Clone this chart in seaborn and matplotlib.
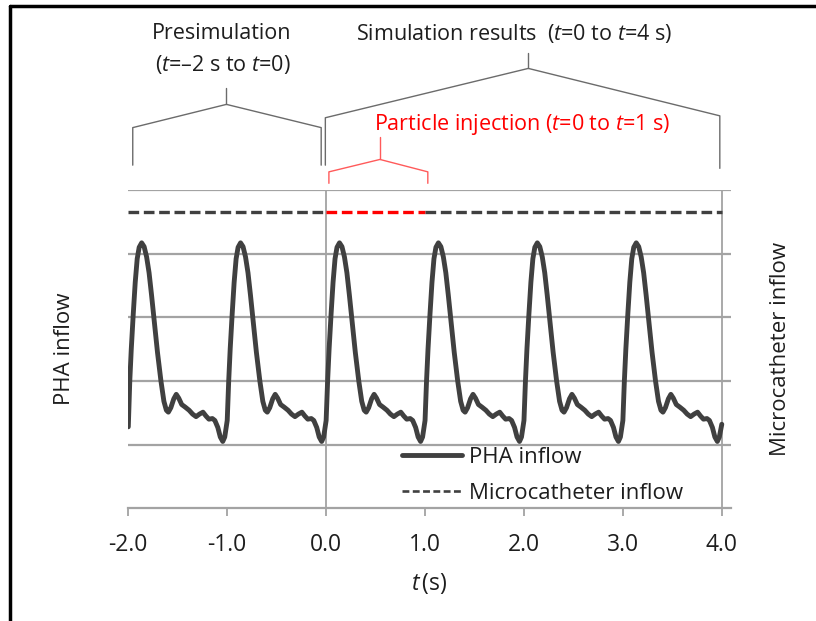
import numpy as np
import pandas as pd
import matplotlib
matplotlib.use("Agg")
import matplotlib.pyplot as plt
import matplotlib.transforms as mtransforms
from matplotlib.lines import Line2D
import seaborn as sns

# ---------------- data ----------------
beat_starts = [-2.0, -1.0, 0.0, 1.0, 2.0, 3.0]
beat_phase = [0.000, 0.015, 0.030, 0.050, 0.070, 0.090, 0.110, 0.135, 0.160,
              0.185, 0.210, 0.235, 0.260, 0.295, 0.330, 0.360, 0.385, 0.405,
              0.430, 0.460, 0.485, 0.510, 0.540, 0.575, 0.615, 0.650, 0.685,
              0.720, 0.755, 0.785, 0.815, 0.850, 0.875, 0.905, 0.930, 0.955,
              0.975]
pha_beat_1 = [1.28, 2.00, 2.50, 3.05, 3.55, 3.92, 4.10, 4.17, 4.11, 3.95, 3.70,
              3.35, 2.98, 2.45, 2.00, 1.68, 1.54, 1.51, 1.58, 1.72, 1.79, 1.73,
              1.63, 1.59, 1.54, 1.48, 1.44, 1.48, 1.51, 1.45, 1.40, 1.41, 1.38,
              1.27, 1.12, 1.05, 1.12]
pha_beat_2 = [1.38, 2.00, 2.50, 3.05, 3.55, 3.92, 4.10, 4.17, 4.11, 3.95, 3.70,
              3.35, 2.98, 2.45, 2.00, 1.68, 1.54, 1.51, 1.58, 1.72, 1.79, 1.73,
              1.63, 1.59, 1.54, 1.48, 1.44, 1.48, 1.51, 1.45, 1.40, 1.41, 1.38,
              1.27, 1.12, 1.05, 1.12]
pha_beat_3 = [1.38, 2.00, 2.50, 3.05, 3.55, 3.92, 4.10, 4.17, 4.11, 3.95, 3.70,
              3.35, 2.98, 2.45, 2.00, 1.68, 1.54, 1.51, 1.58, 1.72, 1.79, 1.73,
              1.63, 1.59, 1.54, 1.48, 1.44, 1.48, 1.51, 1.45, 1.40, 1.41, 1.38,
              1.27, 1.12, 1.05, 1.12]
pha_beat_4 = [1.38, 2.00, 2.50, 3.05, 3.55, 3.92, 4.10, 4.17, 4.11, 3.95, 3.70,
              3.35, 2.98, 2.45, 2.00, 1.68, 1.54, 1.51, 1.58, 1.72, 1.79, 1.73,
              1.63, 1.59, 1.54, 1.48, 1.44, 1.48, 1.51, 1.45, 1.40, 1.41, 1.38,
              1.27, 1.12, 1.05, 1.12]
pha_beat_5 = [1.38, 2.00, 2.50, 3.05, 3.55, 3.92, 4.10, 4.17, 4.11, 3.95, 3.70,
              3.35, 2.98, 2.45, 2.00, 1.68, 1.54, 1.51, 1.58, 1.72, 1.79, 1.73,
              1.63, 1.59, 1.54, 1.48, 1.44, 1.48, 1.51, 1.45, 1.40, 1.41, 1.38,
              1.27, 1.12, 1.05, 1.12]
pha_beat_6 = [1.38, 2.00, 2.50, 3.05, 3.55, 3.92, 4.10, 4.17, 4.11, 3.95, 3.70,
              3.35, 2.98, 2.45, 2.00, 1.68, 1.54, 1.51, 1.58, 1.72, 1.79, 1.73,
              1.63, 1.59, 1.54, 1.48, 1.44, 1.48, 1.51, 1.45, 1.40, 1.41, 1.38,
              1.27, 1.12, 1.05, 1.12]
pha_end_time = 4.0
pha_end_value = 1.32

micro_level = 4.65
presim_span = [-2.0, 0.0]
inject_span = [0.0, 1.0]
sim_span = [1.0, 4.0]

x_ticks = [-2, -1, 0, 1, 2, 3, 4]
x_tick_labels = ["-2.0", "-1.0", "0.0", "1.0", "2.0", "3.0", "4.0"]
grid_levels = [1, 2, 3, 4, 5]
marker_times = [0.0, 4.0]

# ---------------- build tables ----------------
pha_beats = [pha_beat_1, pha_beat_2, pha_beat_3, pha_beat_4, pha_beat_5, pha_beat_6]
pha_t, pha_v = [], []
for start, vals in zip(beat_starts, pha_beats):
    pha_t += [start + p for p in beat_phase]
    pha_v += vals
pha_t.append(pha_end_time)
pha_v.append(pha_end_value)
pha_df = pd.DataFrame({"t": pha_t, "flow": pha_v})

micro_df = pd.DataFrame({
    "t": [presim_span[0], presim_span[1], inject_span[0], inject_span[1], sim_span[0], sim_span[1]],
    "flow": [micro_level] * 6,
    "seg": ["a", "a", "b", "b", "c", "c"],
})

# ---------------- style ----------------
sns.set_theme(style="white")
plt.rcParams["font.family"] = ["Open Sans", "DejaVu Sans"]
plt.rcParams["mathtext.fontset"] = "custom"
plt.rcParams["mathtext.rm"] = "Open Sans"
plt.rcParams["mathtext.it"] = "Open Sans:italic"
plt.rcParams["axes.unicode_minus"] = False

W, H = 816, 621
fig = plt.figure(figsize=(W / 100, H / 100), dpi=100)
fig.patch.set_facecolor("white")
ax = fig.add_axes([128.3 / W, 1 - 508.3 / H, (730.7 - 128.3) / W, (508.3 - 190) / H])
ax.set_xlim(-2, 4.09)
ax.set_ylim(0, 5)

GRID = "#a3a3a3"
LINE = "#404040"
TXT = "#1e1e1e"

for g in grid_levels:
    ax.axhline(g, color=GRID, lw=1.6, zorder=1)
ax.vlines(marker_times, 0, 5, color=GRID, lw=1.3, zorder=1)

for s in ["top", "left", "right"]:
    ax.spines[s].set_visible(False)
ax.spines["bottom"].set_color(GRID)
ax.spines["bottom"].set_linewidth(1.6)

dash = (0, (3.2, 1.4))
seg_colors = {"a": LINE, "b": "#ff0000", "c": LINE}
for seg, sub in micro_df.groupby("seg"):
    sns.lineplot(data=sub, x="t", y="flow", ax=ax, color=seg_colors[seg],
                 lw=2.4, linestyle=dash, estimator=None, sort=False,
                 legend=False, zorder=3)

sns.lineplot(data=pha_df, x="t", y="flow", ax=ax, color=LINE, lw=3.5,
             estimator=None, sort=False, legend=False, zorder=4)
for ln in ax.lines[-1:]:
    ln.set_solid_joinstyle("round")
    ln.set_solid_capstyle("round")

ax.set_xticks(x_ticks)
ax.set_xticklabels(x_tick_labels)
ax.set_yticks([])
ax.tick_params(axis="x", bottom=True, direction="out", length=6, width=1.3,
               color=GRID, pad=12, labelsize=16.5, labelcolor=TXT)
ax.set_xlabel(r"$t\,$(s)", fontsize=16.5, color=TXT, labelpad=10)
ax.set_ylabel("")

handles = [Line2D([], [], color=LINE, lw=3.5),
           Line2D([], [], color=LINE, lw=1.9, linestyle=(0, (2.6, 1.3)))]
ax.legend(handles, ["PHA inflow", "Microcatheter inflow"], loc="upper left",
          bbox_to_anchor=(0.4538, 0.192), frameon=False, fontsize=16,
          handlelength=2.7, handletextpad=0.35, labelspacing=0.66,
          borderpad=0, borderaxespad=0, labelcolor=TXT)

fig.text(65 / W, 1 - 349 / H, "PHA inflow", rotation=90, ha="center",
         va="center", fontsize=16, color=TXT)
fig.text(781 / W, 1 - 349 / H, "Microcatheter inflow", rotation=90,
         ha="center", va="center", fontsize=16, color=TXT)

# ---------------- brackets and headings ----------------
blend = mtransforms.blended_transform_factory(ax.transData, ax.transAxes)

def bracket(xl, xm, xr, yb_l, ysh_l, yap, ystem, ysh_r, yb_r, color, lw):
    ax.add_line(Line2D([xl, xl, xm, xr, xr], [yb_l, ysh_l, yap, ysh_r, yb_r],
                       transform=blend, color=color, lw=lw, clip_on=False))
    ax.add_line(Line2D([xm, xm], [yap, ystem], transform=blend, color=color,
                       lw=lw, clip_on=False))

BR = "#6b6b6b"
bracket(-1.955, -1.008, -0.050, 1.078, 1.196, 1.269, 1.320, 1.196, 1.078, BR, 1.0)
bracket(-0.008, 2.044, 3.980, 1.078, 1.227, 1.382, 1.431, 1.233, 1.068, BR, 1.0)
bracket(0.028, 0.544, 1.028, 1.021, 1.057, 1.096, 1.166, 1.057, 1.021, "#ff5a5a", 1.0)

ax.text(-1.06, 1.493, "Presimulation", transform=blend, ha="center",
        va="center", fontsize=15.5, color=TXT)
ax.text(-1.04, 1.393, r"($t$=–2 s to $t$=0)", transform=blend, ha="center",
        va="center", fontsize=15.5, color=TXT)
ax.text(1.90, 1.493, r"Simulation results  ($t$=0 to $t$=4 s)", transform=blend,
        ha="center", va="center", fontsize=15.5, color=TXT)
ax.text(1.986, 1.207, r"Particle injection ($t$=0 to $t$=1 s)", transform=blend,
        ha="center", va="center", fontsize=15.5, color="#ff0000")

# screenshot frame
fig.add_artist(Line2D([10 / W, 10 / W], [0, 1 - 6 / H], transform=fig.transFigure,
                      color="black", lw=2.5))
fig.add_artist(Line2D([10 / W, 1], [1 - 6 / H, 1 - 6 / H], transform=fig.transFigure,
                      color="black", lw=2.5))

fig.savefig("out.png", dpi=100)
